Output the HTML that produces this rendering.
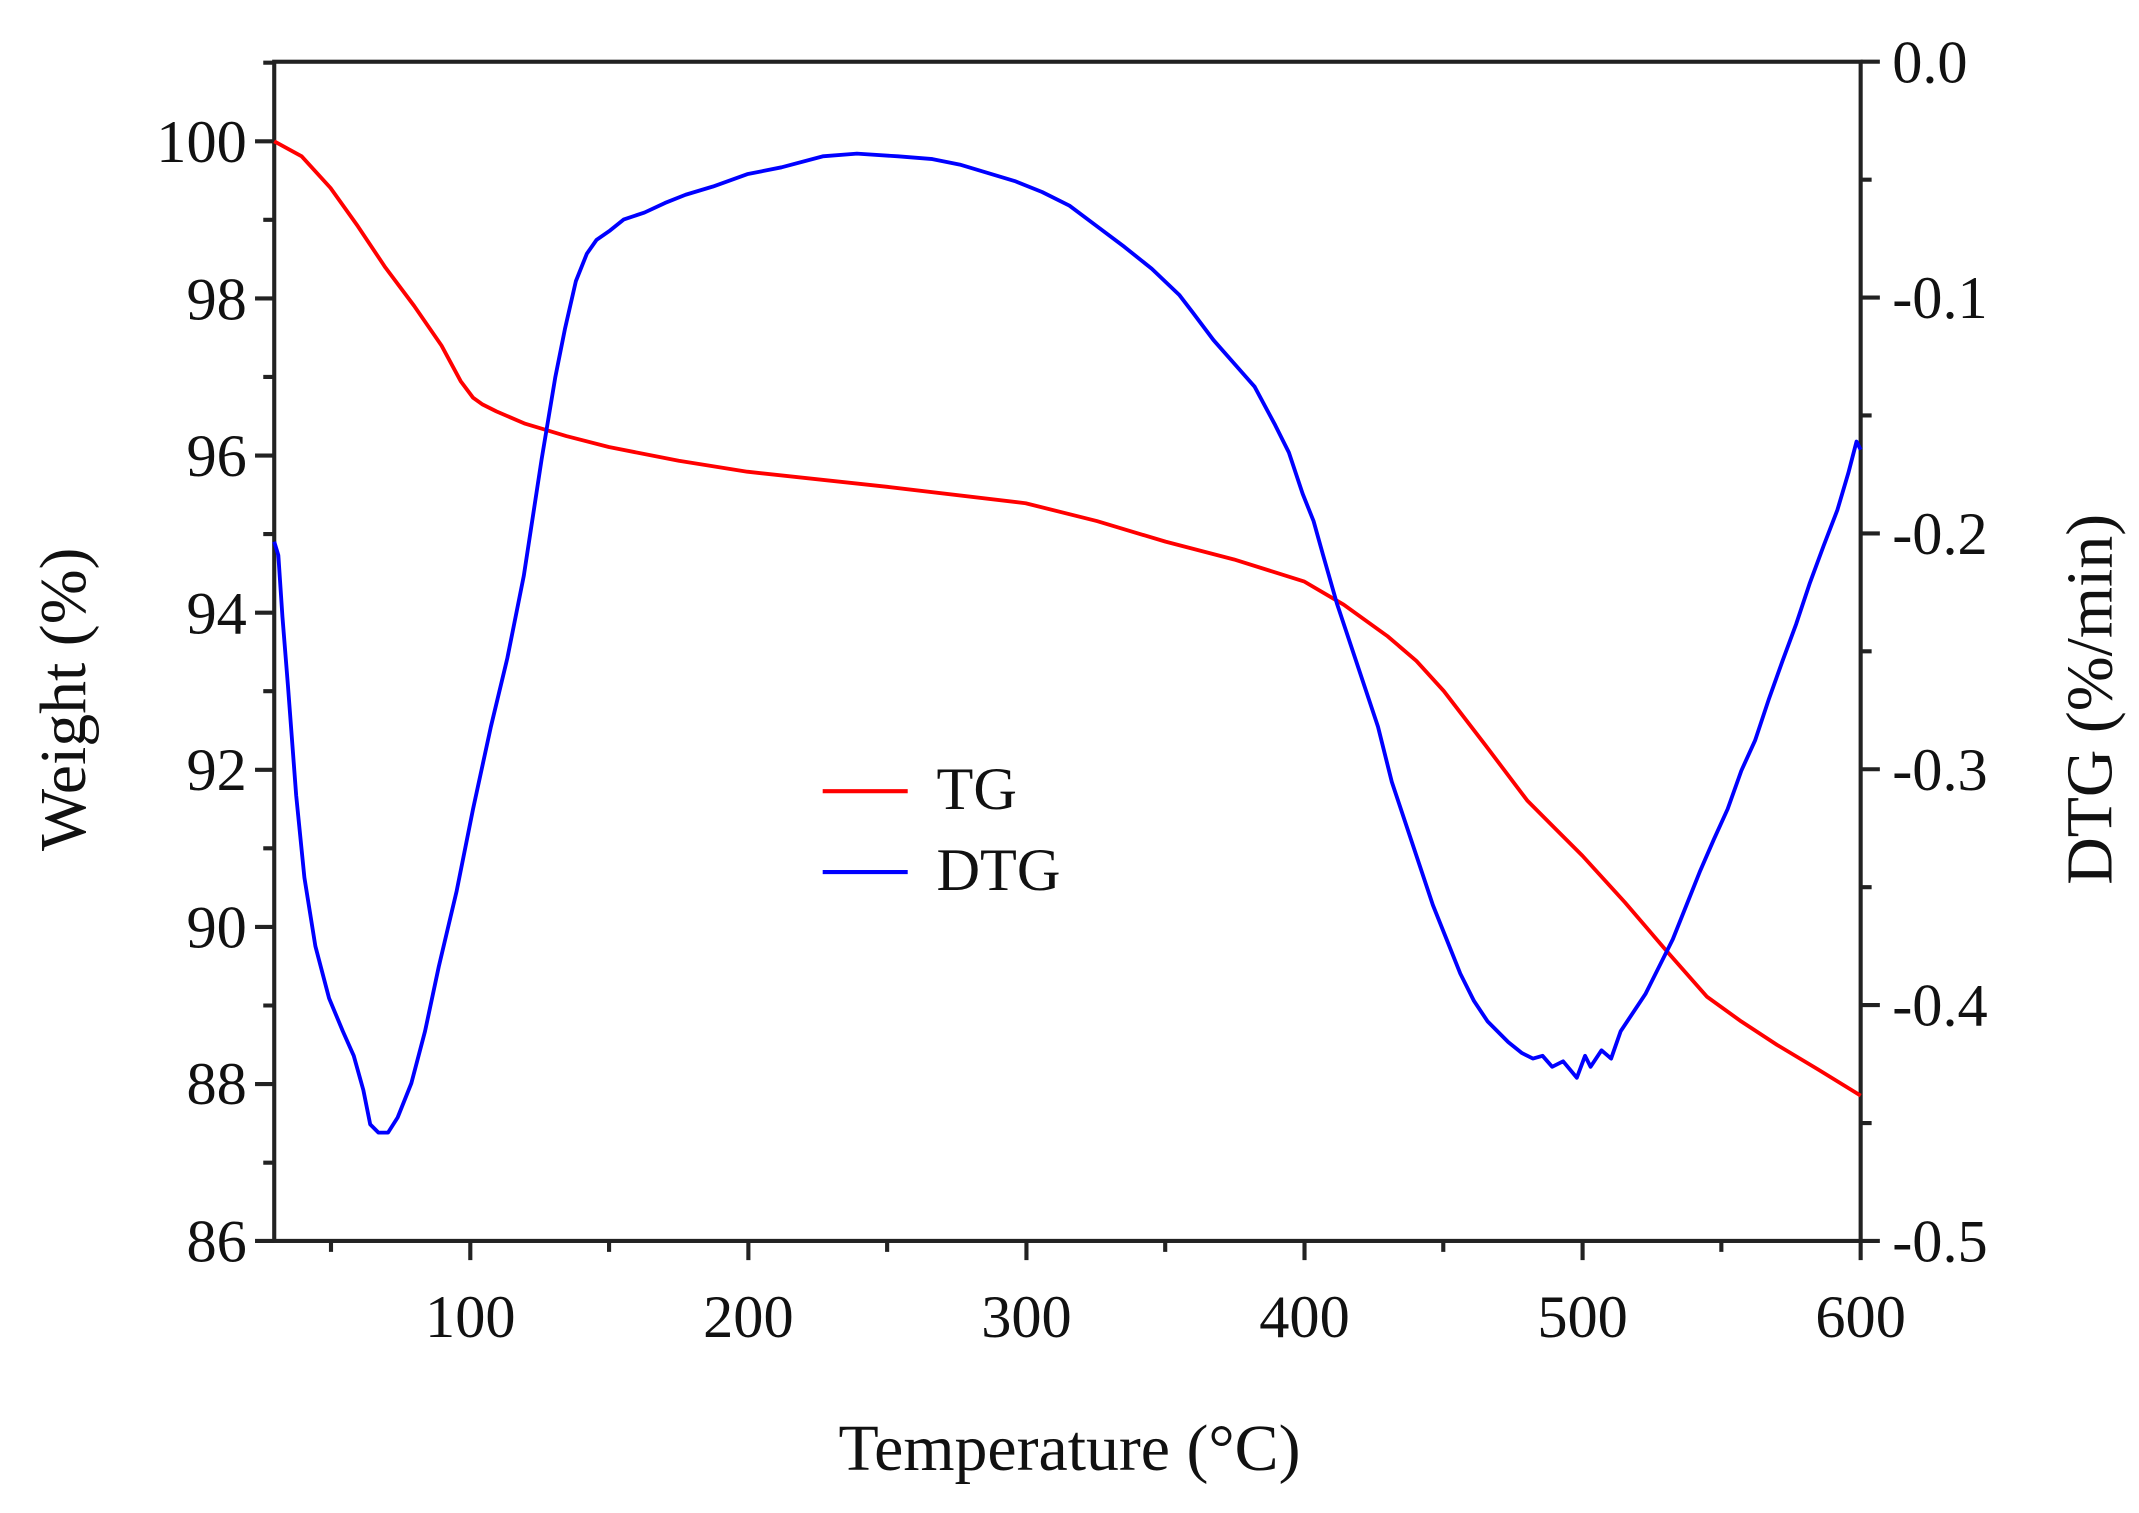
<!DOCTYPE html>
<html><head><meta charset="utf-8"><style>html,body{margin:0;padding:0;background:#fff}svg{display:block}</style></head>
<body>
<svg width="2139" height="1513" viewBox="0 0 1560 1103.4" xmlns="http://www.w3.org/2000/svg" font-family="Liberation Serif, serif" fill="#111">
<rect width="1560" height="1103.4" fill="#fff"/>
<g stroke="#222" stroke-width="3" fill="none">
<rect x="200" y="45" width="1157" height="860"/>
<path d="M343,905v14M545.8,905v14M748.6,905v14M951.4,905v14M1154.2,905v14M1357,905v14"/>
<path d="M241.4,905v8M444.2,905v8M647,905v8M849.8,905v8M1052.6,905v8M1255.4,905v8"/>
<path d="M200,103h-14M200,217.6h-14M200,332.2h-14M200,446.8h-14M200,561.4h-14M200,676h-14M200,790.6h-14M200,905h-14"/>
<path d="M200,45.7h-8M200,160.3h-8M200,274.9h-8M200,389.5h-8M200,504.1h-8M200,618.7h-8M200,733.3h-8M200,847.9h-8"/>
<path d="M1357,45h14M1357,217h14M1357,389h14M1357,561h14M1357,733h14M1357,905h14"/>
<path d="M1357,131h8M1357,303h8M1357,475h8M1357,647h8M1357,819h8"/>
</g>
<g font-size="44" text-anchor="middle">
<text x="343" y="975">100</text><text x="545.8" y="975">200</text><text x="748.6" y="975">300</text>
<text x="951.4" y="975">400</text><text x="1154.2" y="975">500</text><text x="1357" y="975">600</text>
</g>
<g font-size="44" text-anchor="end">
<text x="180" y="118">100</text><text x="180" y="233">98</text><text x="180" y="347">96</text>
<text x="180" y="462">94</text><text x="180" y="576">92</text><text x="180" y="691">90</text>
<text x="180" y="805">88</text><text x="180" y="920">86</text>
</g>
<g font-size="44" text-anchor="start">
<text x="1380" y="60">0.0</text><text x="1380" y="232">-0.1</text><text x="1380" y="404">-0.2</text>
<text x="1380" y="576">-0.3</text><text x="1380" y="748">-0.4</text><text x="1380" y="920">-0.5</text>
</g>
<text x="780" y="1072" font-size="48" text-anchor="middle">Temperature (°C)</text>
<text transform="translate(62,510) rotate(-90)" font-size="48" text-anchor="middle">Weight (%)</text>
<text transform="translate(1540,510) rotate(-90)" font-size="48" text-anchor="middle">DTG (%/min)</text>
<polyline fill="none" stroke="#f00" stroke-width="2.8" stroke-linejoin="round" points="200,103 220,114 241,137 261,165 281,195 302,223 322,252 336,278 345,290 352,295 362,300 383,309 413,318 444,326 495,336 545,344 647,355 748,367 800,380 850,395 900,408 951,424 980,441 1012,464 1033,482 1053,504 1083,543 1114,584 1134,604 1154,624 1185,658 1215,693 1245,727 1270,745 1296,762 1326,780 1357,799"/>
<polyline fill="none" stroke="#00f" stroke-width="2.8" stroke-linejoin="round" points="200,395 203,405 206,450 210,500 216,580 222,640 230,690 240,728 250,752 258,770 265,795 270,820 276,826 283,826 290,815 300,790 310,752 320,705 333,650 345,590 358,530 370,480 382,420 395,335 405,275 412,240 420,205 428,185 435,175 445,168 455,160 470,155 485,148 500,142 520,136 545,127 570,122 600,114 625,112 655,114 680,116 700,120 720,126 740,132 760,140 780,150 800,165 820,180 840,196 860,215 870,228 885,248 900,265 915,282 930,310 940,330 950,360 958,380 965,405 975,440 985,470 995,500 1005,530 1015,570 1025,600 1035,630 1045,660 1055,685 1065,710 1075,730 1085,745 1092,752 1100,760 1110,768 1118,772 1125,770 1132,778 1140,774 1150,786 1156,770 1160,778 1168,766 1175,772 1182,752 1190,740 1200,725 1210,705 1220,685 1230,660 1240,635 1250,612 1260,590 1270,562 1280,540 1290,510 1300,482 1310,455 1320,425 1330,398 1340,372 1348,345 1354,322 1357,328"/>
<line x1="600" y1="577" x2="662" y2="577" stroke="#f00" stroke-width="3"/>
<text x="683" y="590" font-size="44">TG</text>
<line x1="600" y1="636" x2="662" y2="636" stroke="#00f" stroke-width="3"/>
<text x="683" y="649" font-size="44">DTG</text>
</svg>
</body></html>
